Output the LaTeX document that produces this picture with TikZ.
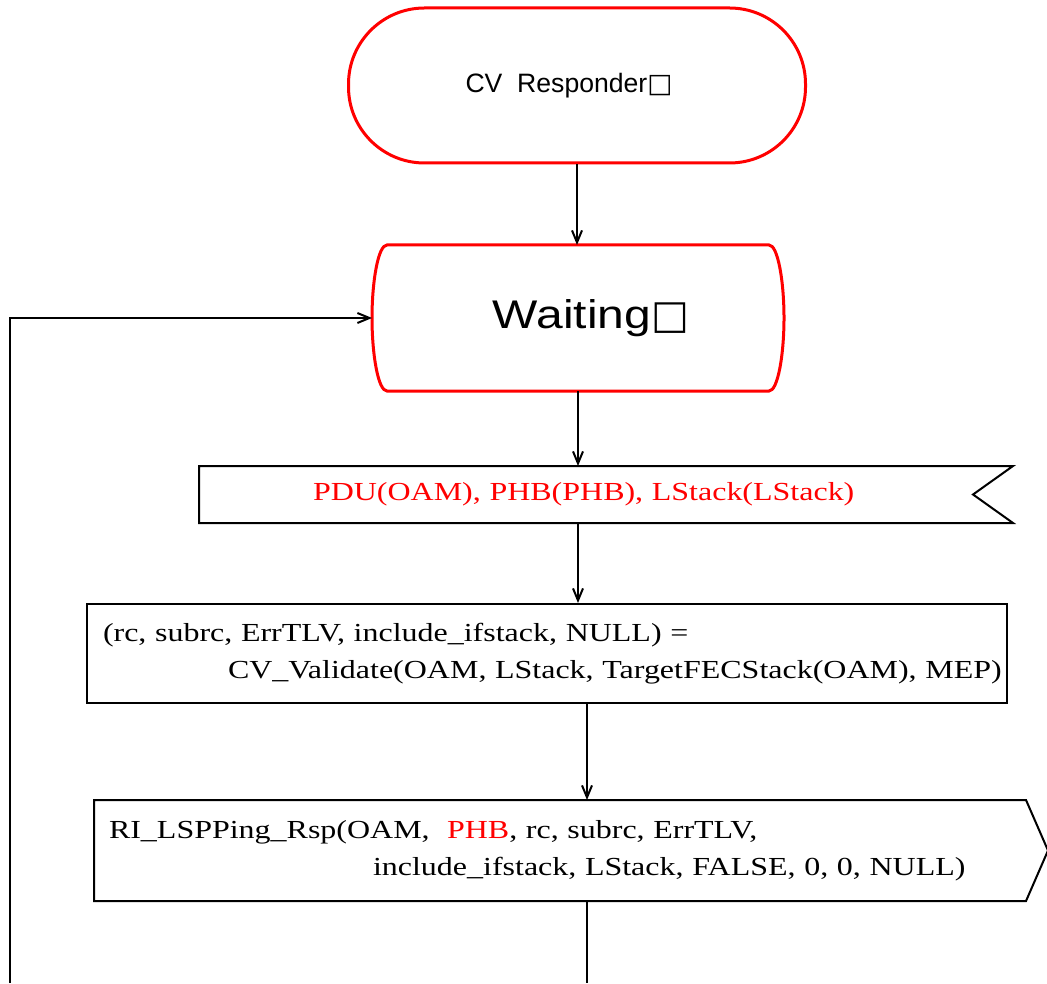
\documentclass[tikz,border=0pt]{standalone}
\usepackage{fontspec}
\usepackage{xcolor}
\usetikzlibrary{positioning,arrows.meta}
\newfontfamily\labelfont{Liberation Sans}
\newfontfamily\widelabelfont[FakeStretch=1.2]{Liberation Sans}
\newfontfamily\boxfont{DejaVu Sans}
\newfontfamily\sdlfont[FakeStretch=1.23]{Liberation Serif}

\tikzset{
  terminal/.style={draw=red, line width=1.5pt, rounded corners=38pt,
    minimum width=228.5pt, minimum height=77.5pt,
    font=\labelfont\fontsize{13.3}{16}\selectfont},
  statebox/.style={minimum width=205pt, minimum height=72pt, inner sep=0pt,
    font=\widelabelfont\fontsize{20}{24}\selectfont},
  sdlbox/.style={inner sep=0pt, align=left,
    font=\sdlfont\fontsize{13}{18.5}\selectfont},
  border/.style={-, line width=1pt},
  redline/.style={-, draw=red, line width=1.5pt}
}

\begin{document}
\begin{tikzpicture}[->, >={Straight Barb[length=6pt,width=5pt]}, line width=1pt, x=0.5pt, y=-0.5pt]
  \useasboundingbox (0,0) rectangle (1047,983);

  \node[terminal] (start) at (577,85.5) {\hspace*{-8pt}CV\ \ Responder{\boxfont□}};
  \node[statebox] (wait) at (578,318) {\hspace*{13pt}Waiting{\boxfont□}};

  \node[sdlbox, minimum width=406pt, minimum height=27.5pt, text width=406pt] (sig) at (606,494.5)
    {\hspace*{56.5pt}\color{red}PDU(OAM), PHB(PHB), LStack(LStack)};
  \node[sdlbox, draw, minimum height=49.5pt, inner xsep=4pt, text width=452pt] (task) at (547,653.5)
    {\mbox{\hspace{4pt}(rc, subrc, ErrTLV, include\_ifstack, NULL) =}\\
     \mbox{\hspace{66.5pt}CV\_Validate(OAM, LStack, TargetFECStack(OAM), MEP)}};
  \node[sdlbox, minimum height=49.5pt, inner xsep=7pt, text width=451pt] (out) at (560,850.5)
    {\mbox{RI\_LSPPing\_Rsp(OAM,\ \ {\color{red}PHB}, rc, subrc, ErrTLV,}\\
     \mbox{\hspace{132pt}include\_ifstack, LStack, FALSE, 0, 0, NULL)}};

  \coordinate (loopin) at (10,983);
  \coordinate (loopout) at (587,983);

  \draw[redline] ([xshift=7.5pt]wait.north west) -- ([xshift=-7.5pt]wait.north east)
    .. controls ([xshift=-3pt]wait.north east) and ([yshift=18pt]wait.east) .. (wait.east)
    .. controls ([yshift=-18pt]wait.east) and ([xshift=-3pt]wait.south east) .. ([xshift=-7.5pt]wait.south east)
    -- ([xshift=7.5pt]wait.south west)
    .. controls ([xshift=3pt]wait.south west) and ([yshift=-18pt]wait.west) .. (wait.west)
    .. controls ([yshift=18pt]wait.west) and ([xshift=3pt]wait.north west) .. cycle;

  \draw[border] (sig.north west) -- (sig.north east) -- ([xshift=-20pt]sig.east)
    -- (sig.south east) -- (sig.south west) -- cycle;
  \draw[border] (out.north west) -- (out.north east) -- ([xshift=11pt]out.east)
    -- (out.south east) -- (out.south west) -- cycle;

  \path
    (start.south) edge (start.south |- wait.north)
    (wait.south) edge (wait.south |- sig.north)
    (wait.south |- sig.south) edge (wait.south |- task.north)
    ([xshift=20pt]task.south) edge ([xshift=20pt]task.south |- out.north);

  \draw[border] ([xshift=20pt]task.south |- out.south) -- (loopout);
  \draw (loopin) |- (wait.west);

\end{tikzpicture}
\end{document}
